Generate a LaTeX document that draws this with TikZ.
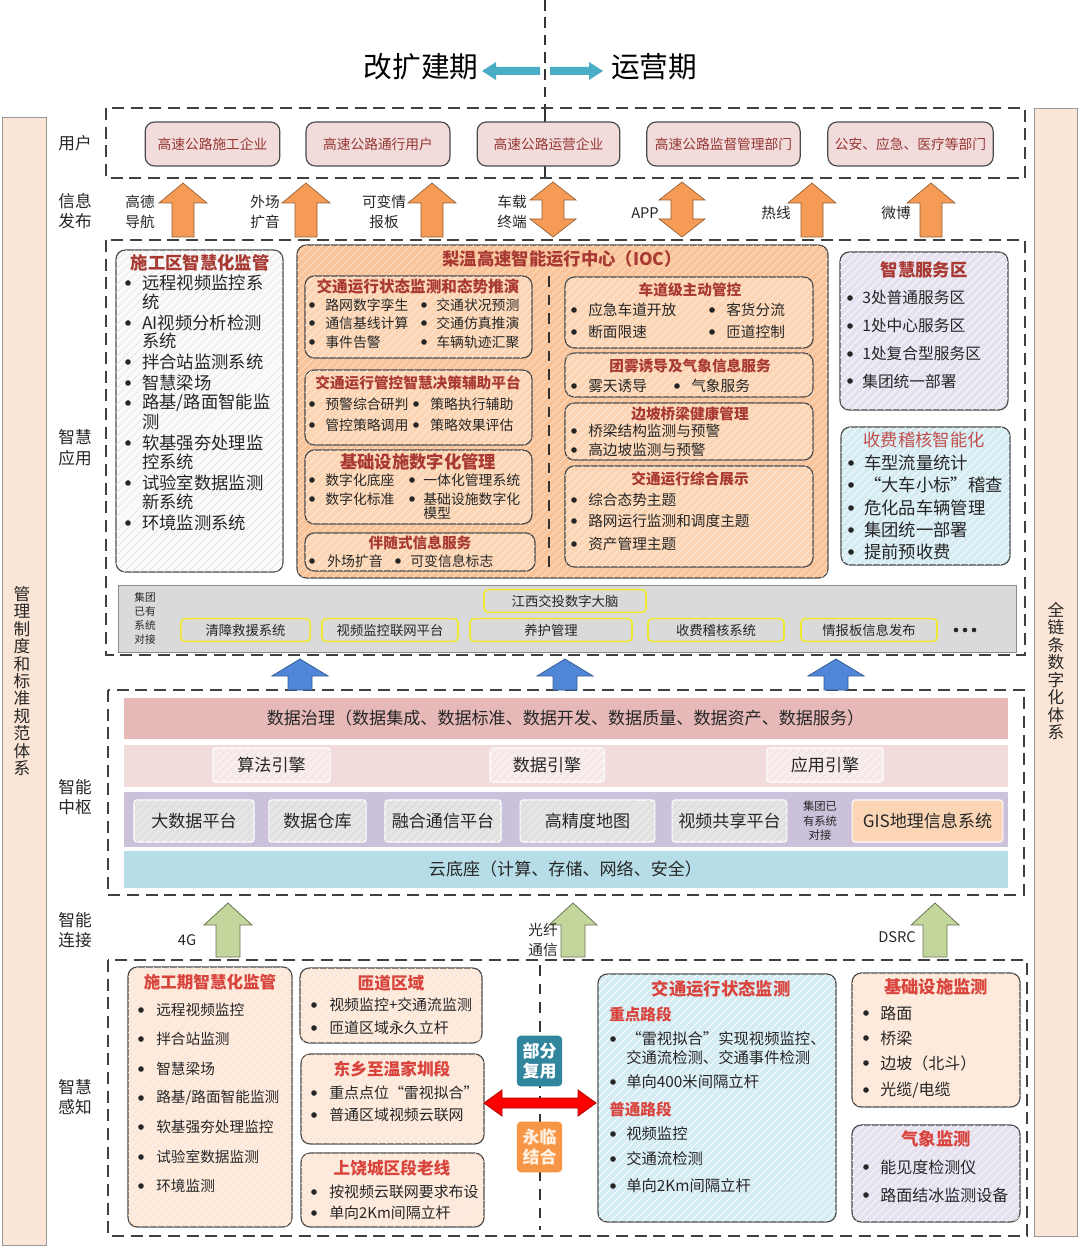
\documentclass[tikz,border=0pt]{standalone}
\usepackage{fontspec}
\setmainfont{Noto Sans CJK SC}
\usetikzlibrary{patterns.meta}

\definecolor{sidebar}{HTML}{FBE5D6}
\definecolor{userpink}{HTML}{F2DCDB}
\definecolor{darkred}{HTML}{953735}
\definecolor{titlered}{HTML}{A93A33}
\definecolor{brightred}{HTML}{D9443D}
\definecolor{softred}{HTML}{C0504D}
\definecolor{arroworange}{HTML}{F59B55}
\definecolor{arrowteal}{HTML}{4BACC6}
\definecolor{iocorange}{HTML}{F9C49A}
\definecolor{subpeach}{HTML}{FCD5B4}
\definecolor{lavender}{HTML}{E6E1EE}
\definecolor{paleblue}{HTML}{D6ECF3}
\definecolor{barfill}{HTML}{DADADA}
\definecolor{boxyellow}{HTML}{F0E830}
\definecolor{govpink}{HTML}{E6B9B8}
\definecolor{enginepink}{HTML}{F2DCDB}
\definecolor{platlilac}{HTML}{CCC1DA}
\definecolor{cloudblue}{HTML}{B7DEE8}
\definecolor{gispeach}{HTML}{FCD5B4}
\definecolor{arrowblue}{HTML}{4F86D6}
\definecolor{arrowgreen}{HTML}{C3D69B}
\definecolor{lightpeach}{HTML}{FDEBE0}
\definecolor{reuseteal}{HTML}{31859C}
\definecolor{mixorange}{HTML}{F79646}

\newcommand\fsz[2]{\fontsize{#1}{#2}\selectfont}
% block arrows: style, x, tip y, base y, half shaft, half head, head length
\newcommand\blockup[7]{\draw[#1] (#2,#3) -- (#2+#6,#3+#7) -- (#2+#5,#3+#7) -- (#2+#5,#4) -- (#2-#5,#4) -- (#2-#5,#3+#7) -- (#2-#6,#3+#7) -- cycle;}
\newcommand\blockud[7]{\draw[#1] (#2,#3) -- (#2+#6,#3+#7) -- (#2+#5,#3+#7) -- (#2+#5,#4-#7) -- (#2+#6,#4-#7) -- (#2,#4) -- (#2-#6,#4-#7) -- (#2-#5,#4-#7) -- (#2-#5,#3+#7) -- (#2-#6,#3+#7) -- cycle;}
\newcommand\blocklr[7]{\draw[#1] (#3,#2) -- (#3+#7,#2-#6) -- (#3+#7,#2-#5) -- (#4-#7,#2-#5) -- (#4-#7,#2-#6) -- (#4,#2) -- (#4-#7,#2+#6) -- (#4-#7,#2+#5) -- (#3+#7,#2+#5) -- (#3+#7,#2+#6) -- cycle;}
% bullet list: name, bullet x, text x, font size, y/text list
\newcommand\bullist[5]{\foreach \yy/\txt [count=\i] in {#5} {\fill[black!85] (#2,\yy) circle (2.8); \node[itm=#4] (#1\i) at (#3,\yy) {\txt};}}

\tikzset{
  frame/.style={draw=black!75, line width=1.1pt, dash pattern=on 9pt off 5pt},
  panel/.style={draw=black!70, line width=0.9pt, rounded corners=7pt, fill=#1},
  hatch/.style={postaction={pattern={Lines[angle=45,distance=4pt,line width=0.5pt]}, pattern color=#1}},
  lbl/.style={inner sep=0, align=center, font=\fsz{12.5}{15.5}, text=black!85},
  pub/.style={inner sep=0, align=center, font=\fsz{11}{15}, text=black!85},
  ttl/.style={inner sep=0, font=\bfseries\fsz{#1}{#1}, text=titlered},
  ttl/.default=11,
  itm/.style={inner sep=0, anchor=west, font=\fsz{#1}{#1}, text=black!85},
  itm/.default=11,
  usr/.style={draw=black!70, line width=0.9pt, rounded corners=7pt, fill=userpink, text=darkred, font=\fsz{10.3}{12}, minimum height=33pt, inner sep=0},
  ybox/.style={draw=boxyellow, line width=1.2pt, rounded corners=3pt, fill=barfill, font=\fsz{10}{12}, minimum height=17pt, inner sep=0, text=black!85},
  eng/.style={fill=enginepink!50!white, draw=white, line width=0.8pt, rounded corners=2pt, hatch=enginepink, minimum height=25.5pt, inner sep=0, font=\fsz{12.8}{14}, text=black!85},
  plat/.style={fill=black!10, draw=white, line width=0.8pt, rounded corners=2pt, hatch=black!16, minimum height=31.5pt, inner sep=0, font=\fsz{12.8}{14}, text=black!85},
  tag/.style={fill=#1, rounded corners=3pt, minimum width=34pt, minimum height=38pt, inner sep=0, align=center, text=white, font=\bfseries\fsz{12.7}{15}},
}

\begin{document}
\begin{tikzpicture}[x=0.75pt,y=-0.75pt]
\useasboundingbox (0,0) rectangle (1080,1248);

% phases
\draw[black!80, line width=1pt, dash pattern=on 8pt off 5pt] (545,0) -- (545,108);
\draw[black!80, line width=0.8pt] (545,108) -- (545,178);
\node[inner sep=0, font=\fsz{21.5}{24}] (build) at (421,67) {改扩建期};
\node[inner sep=0, font=\fsz{21.5}{24}] (oper) at (654,67) {运营期};
\draw[fill=arrowteal, draw=none] (482,71) -- (496,62) -- (496,67) -- (540,67) -- (540,75) -- (496,75) -- (496,80) -- cycle;
\draw[fill=arrowteal, draw=none] (603,71) -- (589,62) -- (589,67) -- (550,67) -- (550,75) -- (589,75) -- (589,80) -- cycle;

% side bars
\draw[fill=sidebar, draw=black!40] (2,117) rectangle (46,1245);
\draw[fill=sidebar, draw=black!40] (1034,108) rectangle (1077,1236);
\node[lbl, font=\fsz{12.5}{13.1}] (rules) at (22,681) {管\\理\\制\\度\\和\\标\\准\\规\\范\\体\\系};
\node[lbl, font=\fsz{12.5}{13.1}] (chain) at (1056,671) {全\\链\\条\\数\\字\\化\\体\\系};

\node[lbl] (lyuser) at (75,143) {用户};
\node[lbl] (lypub) at (75,211) {信息\\发布};
\node[lbl] (lyapp) at (75,448) {智慧\\应用};
\node[lbl] (lyhub) at (75,797) {智能\\中枢};
\node[lbl] (lylink) at (75,930) {智能\\连接};
\node[lbl] (lysense) at (75,1097) {智慧\\感知};

\draw[frame] (106,108) rectangle (1025,178);
\draw[frame] (106,240) rectangle (1025,655);
\draw[frame] (108,690) rectangle (1024,895);
\draw[frame] (108,960) rectangle (1027,1236);

% users
\node[usr, minimum width=101pt] (u1) at (212.5,144) {高速公路施工企业};
\node[usr, minimum width=108pt] (u2) at (378,144) {高速公路通行用户};
\node[usr, minimum width=107pt] (u3) at (548.5,144) {高速公路运营企业};
\node[usr, minimum width=115pt] (u4) at (723.5,144) {高速公路监督管理部门};
\node[usr, minimum width=124pt] (u5) at (910.5,144) {公安、应急、医疗等部门};

% publishing
\foreach \x in {183,306,432,812,931} {
  \blockup{fill=arroworange, draw=arroworange!60!black, line width=0.5pt}{\x}{183}{237}{11}{24}{20}}
\foreach \x in {553,682} {
  \blockud{fill=arroworange, draw=arroworange!60!black, line width=0.5pt}{\x}{182}{237}{11}{23}{18}}
\node[pub] (gaode) at (140,212) {高德\\导航};
\node[pub] (spkr) at (265,212) {外场\\扩音};
\node[pub] (vms) at (384,212) {可变情\\报板};
\node[pub] (obu) at (512,212) {车载\\终端};
\node[pub] (app) at (645,213) {APP};
\node[pub] (hotline) at (776,213) {热线};
\node[pub] (weibo) at (896,213) {微博};

% smart applications
\draw[panel=black!2, hatch=black!12] (116,250) rectangle (283,572);
\node[ttl=13] (sgtitle) at (200,263) {施工区智慧化监管};
\bullist{sg}{128}{142}{13}{283/远程视频监控系, 323/AI视频分析检测, 362/拌合站监测系统, 383/智慧梁场, 403/{路基/路面智能监}, 443/软基强夯处理监, 483/试验室数据监测, 523/环境监测系统}
\foreach \yy/\txt [count=\i] in {302/统, 341/系统, 422/测, 462/控系统, 502/新系统} {
  \node[itm=13] (sgc\i) at (142,\yy) {\txt};}

\draw[panel=iocorange, hatch=iocorange!45!white] (297,245) rectangle (828,578);
\node[ttl=13] (ioc) at (562,259) {梨温高速智能运行中心（IOC）};
\draw[black!80, line width=1pt, dash pattern=on 8pt off 6pt] (549,276) -- (549,570);

\draw[panel=subpeach, hatch=subpeach!40!white] (305,276) rectangle (532,358);
\node[ttl=11.7] (tstitle) at (418,287) {交通运行状态监测和态势推演};
\bullist{tsa}{312}{325}{10.4}{305/路网数字孪生, 323/通信基线计算, 342/事件告警}
\bullist{tsb}{424}{436}{10.4}{305/交通状况预测, 323/交通仿真推演, 342/车辆轨迹汇聚}

\draw[panel=subpeach, hatch=subpeach!40!white] (305,370) rectangle (532,445);
\node[ttl=11] (dstitle) at (418,383) {交通运行管控智慧决策辅助平台};
\bullist{dsa}{312}{325}{10.4}{404/预警综合研判, 425/管控策略调用}
\bullist{dsb}{416}{430}{10.4}{404/策略执行辅助, 425/策略效果评估}

\draw[panel=subpeach, hatch=subpeach!40!white] (305,450) rectangle (532,524);
\node[ttl=13] (iftitle) at (418,462) {基础设施数字化管理};
\bullist{ifa}{312}{325}{10.4}{480/数字化底座, 499/数字化标准}
\bullist{ifb}{412}{423}{10.4}{480/一体化管理系统, 499/基础设施数字化}
\node[itm=10.4] (ifc) at (423,513) {模型};

\draw[panel=subpeach, hatch=subpeach!40!white] (305,533) rectangle (535,571);
\node[ttl=11] (fstitle) at (420,543) {伴随式信息服务};
\bullist{fsa}{312}{327}{10.4}{561/外场扩音}
\bullist{fsb}{398}{410}{10.4}{561/可变信息标志}

\draw[panel=subpeach, hatch=subpeach!40!white] (565,277) rectangle (813,348);
\node[ttl=11] (lntitle) at (690,290) {车道级主动管控};
\bullist{lna}{574}{588}{11}{310/应急车道开放, 332/断面限速}
\bullist{lnb}{712}{726}{11}{310/客货分流, 332/匝道控制}

\draw[panel=subpeach, hatch=subpeach!40!white] (565,353) rectangle (813,397);
\node[ttl=11] (fgtitle) at (690,366) {团雾诱导及气象信息服务};
\bullist{fga}{574}{588}{11}{386/雾天诱导}
\bullist{fgb}{677}{691}{11}{386/气象服务}

\draw[panel=subpeach, hatch=subpeach!40!white] (565,403) rectangle (813,460);
\node[ttl=11] (slptitle) at (690,414) {边坡桥梁健康管理};
\bullist{slp}{574}{588}{11}{431/桥梁结构监测与预警, 450/高边坡监测与预警}

\draw[panel=subpeach, hatch=subpeach!40!white] (565,466) rectangle (813,567);
\node[ttl=11] (shwtitle) at (690,479) {交通运行综合展示};
\bullist{shw}{574}{588}{11}{500/综合态势主题, 521/路网运行监测和调度主题, 544/资产管理主题}

\draw[panel=lavender, hatch=white] (840,252) rectangle (1008,410);
\node[ttl=13] (svtitle) at (924,270) {智慧服务区};
\bullist{sv}{850}{862}{11.8}{298/3处普通服务区, 326/1处中心服务区, 354/1处复合型服务区, 381/集团统一部署}

\draw[panel=paleblue, hatch=white] (841,427) rectangle (1010,565);
\node[inner sep=0, font=\fsz{13}{13}, text=softred] (tltitle) at (924,440) {收费稽核智能化};
\bullist{tl}{851}{864}{13}{463/车型流量统计, 485/“大车小标”稽查, 508/危化品车辆管理, 530/集团统一部署, 552/提前预收费}

% group systems bar
\draw[fill=barfill, draw=black!45] (118,585) rectangle (1016,652);
\node[inner sep=0, align=left, font=\fsz{8}{10.5}, text=black!85] (grp) at (145,618) {集团\\已有\\系统\\对接};
\node[ybox, minimum width=121.5pt] (brain) at (565,601) {江西交投数字大脑};
\node[ybox, minimum width=97pt] (rescue) at (245.5,630) {清障救援系统};
\node[ybox, minimum width=102pt] (video) at (390,630) {视频监控联网平台};
\node[ybox, minimum width=121.5pt] (maint) at (551,630) {养护管理};
\node[ybox, minimum width=102pt] (toll) at (716,630) {收费稽核系统};
\node[ybox, minimum width=102pt] (board) at (869,630) {情报板信息发布};
\foreach \x in {956,965,974} {\fill[black!85] (\x,630) circle (2.3);}

\foreach \x in {300,565,836} {
  \blockup{fill=arrowblue, draw=arrowblue!70!black, line width=0.6pt}{\x}{659}{690}{12}{28}{17}}

% hub
\draw[fill=govpink, draw=white] (123,697) rectangle (1008,739);
\node[inner sep=0, font=\fsz{12.8}{14}, text=black!85] (gov) at (565.5,718) {数据治理（数据集成、数据标准、数据开发、数据质量、数据资产、数据服务）};
\draw[fill=enginepink, draw=white] (123,744) rectangle (1008,787);
\node[eng, minimum width=88pt] (algo) at (271.5,765) {算法引擎};
\node[eng, minimum width=85.5pt] (dataeng) at (547,765) {数据引擎};
\node[eng, minimum width=87pt] (appeng) at (825,765) {应用引擎};
\draw[fill=platlilac, draw=white] (123,791) rectangle (1008,847);
\node[plat, minimum width=90pt] (bigdata) at (194,821) {大数据平台};
\node[plat, minimum width=73pt] (dw) at (317.5,821) {数据仓库};
\node[plat, minimum width=87pt] (comm) at (443,821) {融合通信平台};
\node[plat, minimum width=101pt] (hdmap) at (587.5,821) {高精度地图};
\node[plat, minimum width=86pt] (vshare) at (729.5,821) {视频共享平台};
\node[inner sep=0, align=center, font=\fsz{8.5}{11}, text=black!85] (grp2) at (820,821) {集团已\\有系统\\对接};
\node[plat, fill=gispeach, hatch=gispeach, minimum width=113pt] (gis) at (927.5,821) {GIS地理信息系统};
\draw[fill=cloudblue, draw=white] (123,850) rectangle (1008,888);
\node[inner sep=0, font=\fsz{12.8}{14}, text=black!85] (cloud) at (565.5,869) {云底座（计算、存储、网络、安全）};

% connection
\foreach \x in {228,573,935} {
  \blockup{fill=arrowgreen, draw=arrowgreen!55!black, line width=0.6pt}{\x}{903}{957}{12}{24}{22}}
\node[pub] (g4) at (187,940) {4G};
\node[pub] (fiber) at (543,940) {光纤\\通信};
\node[pub] (dsrc) at (897,937) {DSRC};

% perception
\draw[black!80, line width=1pt, dash pattern=on 8pt off 6pt] (540,965) -- (540,1230);

\draw[panel=lightpeach, hatch=orange!22] (128,967) rectangle (292,1227);
\node[ttl=12.4, text=brightred] (cptitle) at (210,982) {施工期智慧化监管};
\bullist{cp}{141}{156}{11}{1010/远程视频监控, 1039/拌合站监测, 1069/智慧梁场, 1098/{路基/路面智能监测}, 1127/软基强夯处理监控, 1157/试验室数据监测, 1186/环境监测}

\draw[panel=lightpeach, hatch=orange!22] (300,968) rectangle (482,1043);
\node[ttl=12.5, text=brightred] (rptitle) at (391,983) {匝道区域};
\bullist{rp}{314}{329}{11.2}{1005/视频监控+交通流监测, 1028/匝道区域永久立杆}

\draw[panel=lightpeach, hatch=orange!22] (301,1054) rectangle (484,1144);
\node[ttl=12.5, text=brightred] (dxtitle) at (392,1069) {东乡至温家圳段};
\bullist{dx}{314}{329}{11.2}{1093/重点点位“雷视拟合”, 1115/普通区域视频云联网}

\draw[panel=lightpeach, hatch=orange!22] (301,1153) rectangle (484,1227);
\node[ttl=12.5, text=brightred] (srtitle) at (392,1168) {上饶城区段老线};
\bullist{sr}{314}{329}{11.2}{1192/按视频云联网要求布设, 1213/单向2Km间隔立杆}

\node[tag=reuseteal] (reuse) at (539.5,1061) {部分\\复用};
\node[tag=mixorange, text=white!88!orange] (mixed) at (539.5,1147) {永临\\结合};
\blocklr{fill=red, draw=red!70!black, line width=0.6pt}{1103}{484}{596}{5}{13}{18}

\draw[panel=paleblue, hatch=white] (598,974) rectangle (836,1222);
\node[ttl=13, text=brightred] (tftitle) at (721,989) {交通运行状态监测};
\node[ttl=11.7, text=brightred, anchor=west] (keyseg) at (609,1014) {重点路段};
\bullist{ky}{613}{626}{11.5}{1039/“雷视拟合”实现视频监控、, 1082/单向400米间隔立杆}
\node[itm=11.5] (kyc) at (626,1058) {交通流检测、交通事件检测};
\node[ttl=11.7, text=brightred, anchor=west] (normseg) at (609,1109) {普通路段};
\bullist{nm}{613}{626}{11.5}{1134/视频监控, 1159/交通流检测, 1186/单向2Km间隔立杆}

\draw[panel=lightpeach, hatch=orange!22] (852,973) rectangle (1020,1107);
\node[ttl=13, text=brightred] (institle) at (936,987) {基础设施监测};
\bullist{ins}{866}{880}{12}{1013/路面, 1038/桥梁, 1063/边坡（北斗）, 1090/{光缆/电缆}}

\draw[panel=lavender, hatch=white] (852,1125) rectangle (1020,1222);
\node[ttl=13, text=brightred] (wttitle) at (936,1139) {气象监测};
\bullist{wt}{866}{880}{12}{1167/能见度检测仪, 1195/路面结冰监测设备}
\end{tikzpicture}
\end{document}
